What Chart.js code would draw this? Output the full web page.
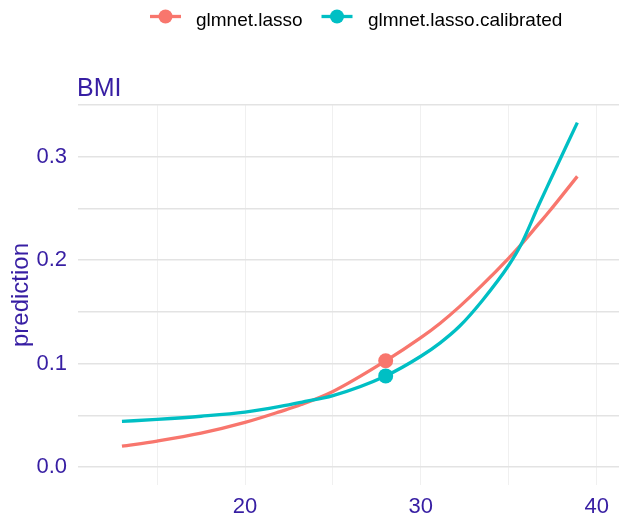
<!DOCTYPE html>
<html>
<head>
<meta charset="utf-8">
<script src="https://cdn.jsdelivr.net/npm/chart.js@4.4.1/dist/chart.umd.min.js"></script>
<style>
  html, body { margin: 0; padding: 0; background: #ffffff; }
  canvas { display: block; }
</style>
</head>
<body>
<canvas id="c" width="619" height="515"></canvas>
<script>
// ---- data ----
const variableName = 'BMI';
const seriesNames = ['glmnet.lasso', 'glmnet.lasso.calibrated'];
const bmi = [13, 15, 17.5, 20, 22, 23.2, 25, 28, 30, 31.1, 32.2, 33.5, 35, 35.7, 36.7, 37.3, 38.9];
const lassoPred = [0.020, 0.025, 0.0326, 0.043, 0.0535, 0.0603, 0.073, 0.1026, 0.125, 0.139, 0.155, 0.176, 0.202, 0.215, 0.235, 0.247, 0.281];
const calibratedPred = [0.044, 0.046, 0.049, 0.053, 0.0585, 0.0625, 0.069, 0.088, 0.107, 0.120, 0.136, 0.161, 0.195, 0.215, 0.253, 0.275, 0.333];
const observationBmi = [28];
const observationLasso = [0.1026];
const observationCalibrated = [0.088];
const xTickValues = [15, 20, 25, 30, 35, 40];
const xTickLabels = ['', '20', '', '30', '', '40'];
const yTickValues = [0, 0.05, 0.1, 0.15, 0.2, 0.25, 0.3, 0.35];
const yTickLabels = ['0.0', '', '0.1', '', '0.2', '', '0.3', ''];

// ---- styling ----
const colors = ['#F8766D', '#00BFC4'];
const purple = '#371ea3';
const FONT = '"Liberation Sans", Arial, sans-serif';

const toXY = (xs, ys) => xs.map((x, i) => ({ x: x, y: ys[i] }));

const headerPlugin = {
  id: 'header',
  afterDraw(chart) {
    const ctx = chart.ctx;
    ctx.save();
    const legendItems = [
      { label: seriesNames[0], color: colors[0], cx: 165.5, tx: 196 },
      { label: seriesNames[1], color: colors[1], cx: 337, tx: 368 }
    ];
    const ly = 16.5;
    ctx.font = '19px ' + FONT;
    ctx.textBaseline = 'alphabetic';
    ctx.textAlign = 'left';
    for (const it of legendItems) {
      ctx.strokeStyle = it.color;
      ctx.lineWidth = 3.3;
      ctx.beginPath();
      ctx.moveTo(it.cx - 15.5, ly);
      ctx.lineTo(it.cx + 15.5, ly);
      ctx.stroke();
      ctx.fillStyle = it.color;
      ctx.beginPath();
      ctx.arc(it.cx, ly, 7, 0, Math.PI * 2);
      ctx.fill();
      ctx.fillStyle = '#000000';
      ctx.fillText(it.label, it.tx, 26);
    }
    ctx.font = '25px ' + FONT;
    ctx.fillStyle = purple;
    ctx.fillText(variableName, chart.chartArea.left - 1, 95.5);
    ctx.restore();
  }
};

new Chart(document.getElementById('c'), {
  type: 'line',
  data: {
    datasets: [
      {
        label: seriesNames[0],
        data: toXY(bmi, lassoPred),
        borderColor: colors[0],
        backgroundColor: colors[0],
        borderWidth: 3.3,
        pointRadius: 0,
        cubicInterpolationMode: 'monotone',
        order: 3
      },
      {
        label: seriesNames[1],
        data: toXY(bmi, calibratedPred),
        borderColor: colors[1],
        backgroundColor: colors[1],
        borderWidth: 3.3,
        pointRadius: 0,
        cubicInterpolationMode: 'monotone',
        order: 2
      },
      {
        label: seriesNames[0] + ' observation',
        data: toXY(observationBmi, observationLasso),
        showLine: false,
        pointRadius: 7.5,
        pointBorderWidth: 0,
        pointBackgroundColor: colors[0],
        borderColor: colors[0],
        order: 1
      },
      {
        label: seriesNames[1] + ' observation',
        data: toXY(observationBmi, observationCalibrated),
        showLine: false,
        pointRadius: 7.5,
        pointBorderWidth: 0,
        pointBackgroundColor: colors[1],
        borderColor: colors[1],
        order: 0
      }
    ]
  },
  options: {
    responsive: false,
    animation: false,
    devicePixelRatio: 1,
    layout: { autoPadding: false, padding: { top: 105, left: 0, right: 0, bottom: 0 } },
    plugins: {
      legend: { display: false },
      title: { display: false },
      tooltip: { enabled: false }
    },
    scales: {
      x: {
        type: 'linear',
        min: 10.5,
        max: 41.27,
        afterBuildTicks(scale) { scale.ticks = xTickValues.map(v => ({ value: v })); },
        afterFit(scale) { scale.height = 30; scale.paddingLeft = 0; scale.paddingRight = 0; },
        ticks: {
          autoSkip: false,
          maxRotation: 0,
          padding: 9,
          color: purple,
          font: { family: FONT, size: 22 },
          callback: (v, i) => xTickLabels[i]
        },
        grid: { color: '#f0f0f0', lineWidth: 1, drawTicks: false },
        border: { display: false }
      },
      y: {
        type: 'linear',
        min: -0.0175,
        max: 0.35,
        afterBuildTicks(scale) { scale.ticks = yTickValues.map(v => ({ value: v })); },
        afterFit(scale) { scale.width = 78; scale.paddingTop = 0; scale.paddingBottom = 0; },
        ticks: {
          autoSkip: false,
          padding: 11,
          color: purple,
          font: { family: FONT, size: 22 },
          callback: (v, i) => yTickLabels[i]
        },
        grid: { color: '#e3e3e3', lineWidth: 1.4, drawTicks: false },
        border: { display: false },
        title: {
          display: true,
          text: 'prediction',
          color: purple,
          font: { family: FONT, size: 24, lineHeight: 1 },
          padding: { top: 9, bottom: 0 }
        }
      }
    }
  },
  plugins: [headerPlugin]
});
</script>
</body>
</html>
